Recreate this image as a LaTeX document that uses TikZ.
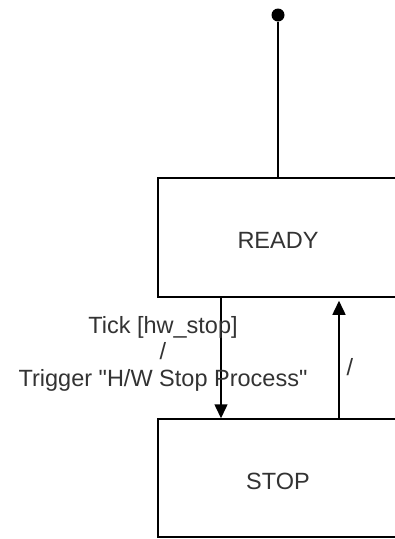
\documentclass[tikz,border=0pt]{standalone}
\usepackage{fontspec}
\setmainfont{Liberation Sans}[Ligatures=TeXOff]
\usetikzlibrary{arrows.meta}
\definecolor{txt}{HTML}{333333}
\tikzset{
  statebox/.style={draw, line width=1.5pt, minimum width=240pt, inner sep=0pt, text=txt,
    font=\fontsize{23.5}{26.5}\selectfont, text height=22.5pt},
  lbl/.style={text=txt, font=\fontsize{23.5}{26.5}\selectfont, inner sep=0pt, align=center},
  conn/.style={line width=1.5pt},
  arr/.style={conn, -{Triangle[length=14pt,width=13pt]}},
}
\begin{document}
\begin{tikzpicture}[x=1pt,y=-1pt]
\clip (0,0) rectangle (395,539);
\fill[white] (0,0) rectangle (395,539);
\node[circle, fill=black, inner sep=0pt, minimum size=13pt] (init) at (278,15) {};
\node[statebox, minimum height=119pt] (ready) at (278,237.5) {READY};
\node[statebox, minimum height=118pt] (stop) at (278,478) {STOP};
\draw[conn] (init) -- (ready);
\draw[arr] ([xshift=-57pt]ready.south) -- ([xshift=-57pt]stop.north);
\draw[arr] ([xshift=61pt]stop.north) -- ([xshift=61pt,yshift=-3pt]ready.south);
\node[lbl] (l1) at (163,353.5) {Tick [hw\_stop]\\/\\Trigger "H/W Stop Process"};
\node[lbl] (l2) at (350,367) {/};
\end{tikzpicture}
\end{document}
